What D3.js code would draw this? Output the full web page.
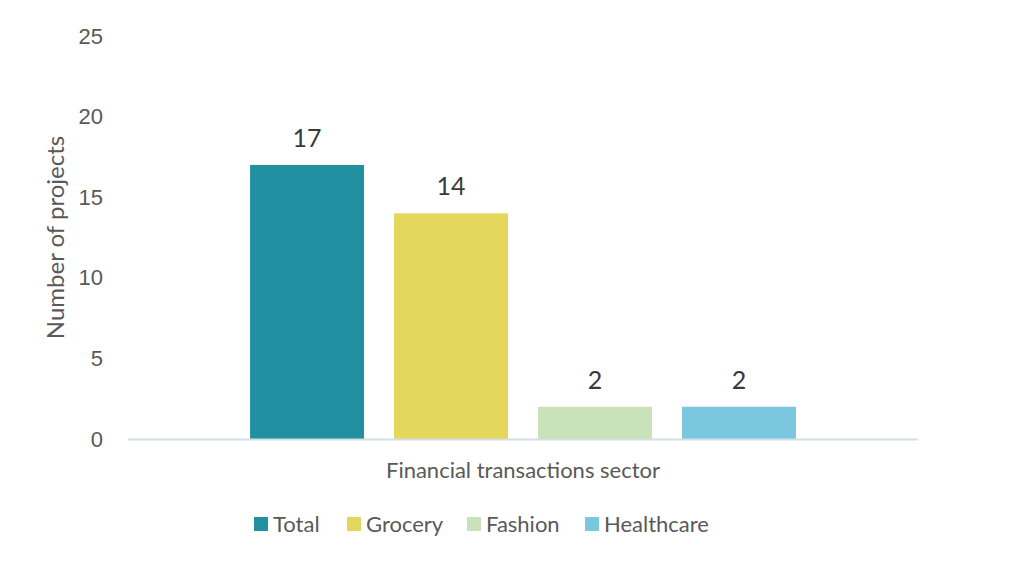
<!DOCTYPE html>
<html lang="en">
<head>
<meta charset="UTF-8">
<title>Number of projects by financial transactions sector</title>
<script src="https://cdnjs.cloudflare.com/ajax/libs/d3/7.8.2/d3.min.js"></script>
<style>
    body { margin: 0; background: #fff; }
    svg { display: block; font-family: Lato, "Open Sans", sans-serif; }
    .tick text { fill: #595959; font-size: 22px; }
    .label { fill: #595959; font-size: 22px; }
    .ytitle { fill: #595959; font-size: 24px; }
    .value { fill: #3a3a3a; font-size: 25px; }
</style>
</head>
<body>
<svg width="1024" height="574"></svg>
<script>
    const categories = ["Financial transactions sector"];
    const series = ["Total", "Grocery", "Fashion", "Healthcare"];
    const values = [17, 14, 2, 2];
    const colors = ["#2190a0", "#e5d75b", "#cae2b9", "#7cc7e0"];
    const yTicks = [0, 5, 10, 15, 20, 25];

    const svg = d3.select("svg");
    const margin = { top: 36, right: 106, bottom: 135, left: 128 };
    const width = 1024 - margin.left - margin.right,
          height = 574 - margin.top - margin.bottom;

    const g = svg.append("g").attr("transform", `translate(${margin.left},${margin.top})`);

    const y = d3.scaleLinear().domain([0, 25]).range([height, 0]);

    const x0 = d3.scaleBand().domain(categories).range([0, width]).paddingOuter(0.186);
    const x1 = d3.scaleBand().domain(series).range([0, x0.bandwidth()])
        .paddingInner(0.2083).paddingOuter(0.104);
    const color = d3.scaleOrdinal().domain(series).range(colors);

    // y axis (labels only)
    const yAxis = g.append("g")
        .call(d3.axisLeft(y).tickValues(yTicks).tickSize(0).tickPadding(25));
    yAxis.select(".domain").remove();

    // bars
    const bars = g.append("g")
        .attr("transform", `translate(${x0(categories[0])},0)`);

    bars.selectAll("rect")
        .data(series)
        .enter().append("rect")
        .attr("x", d => x1(d))
        .attr("y", (d, i) => y(values[i]))
        .attr("width", x1.bandwidth())
        .attr("height", (d, i) => y(0) - y(values[i]))
        .attr("fill", d => color(d));

    bars.selectAll("text")
        .data(series)
        .enter().append("text")
        .attr("class", "value")
        .attr("x", d => x1(d) + x1.bandwidth() / 2)
        .attr("y", (d, i) => y(values[i]) - 18)
        .attr("text-anchor", "middle")
        .text((d, i) => values[i]);

    // x axis line
    g.append("line")
        .attr("x1", 0).attr("x2", width)
        .attr("y1", y(0) + 0.5).attr("y2", y(0) + 0.5)
        .attr("stroke", "#d3dfe2")
        .attr("stroke-width", 2);

    // category label
    g.append("text")
        .attr("class", "label")
        .attr("x", x0(categories[0]) + x0.bandwidth() / 2)
        .attr("y", height + 39)
        .attr("text-anchor", "middle")
        .text(categories[0]);

    // y axis title
    svg.append("text")
        .attr("class", "ytitle")
        .attr("transform", `translate(64,${margin.top + height / 2}) rotate(-90)`)
        .attr("text-anchor", "middle")
        .text("Number of projects");

    // legend
    const legendX = [254, 347, 467, 585];
    const legend = svg.append("g").attr("transform", "translate(0,517)");
    const item = legend.selectAll("g")
        .data(series)
        .enter().append("g")
        .attr("transform", (d, i) => `translate(${legendX[i]},0)`);
    item.append("rect")
        .attr("width", 14).attr("height", 14)
        .attr("fill", d => color(d));
    item.append("text")
        .attr("class", "label")
        .attr("x", 19)
        .attr("y", 15)
        .text(d => d);
</script>
</body>
</html>
